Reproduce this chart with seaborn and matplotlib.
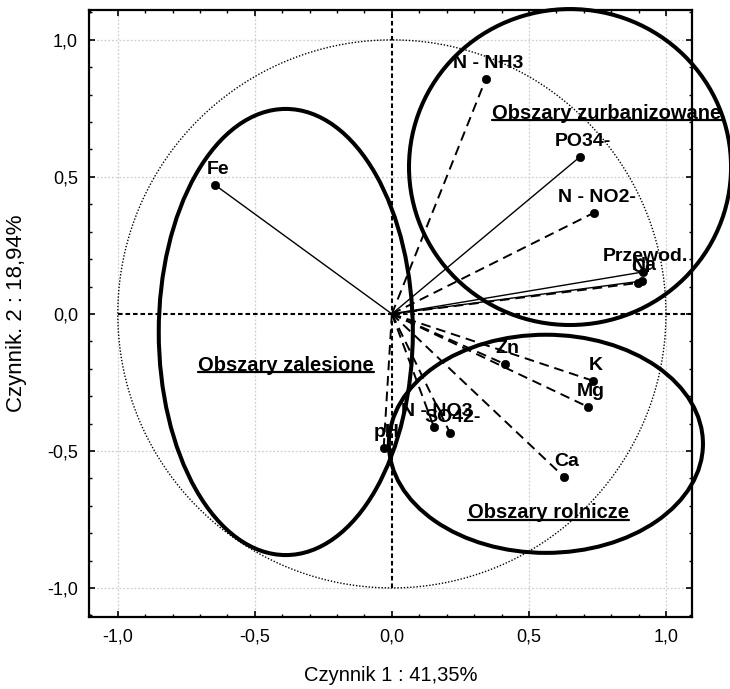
import numpy as np
import pandas as pd
import matplotlib
matplotlib.use("Agg")
import matplotlib.pyplot as plt
import seaborn as sns
from matplotlib.patches import Ellipse
from matplotlib.ticker import MultipleLocator, FixedLocator, FixedFormatter

# ---------------- data ----------------
variables = ['Fe', 'N - NH3', 'PO34-', 'N - NO2-', 'Przewod.', 'Na', 'Cl',
             'Zn', 'K', 'Mg', 'Ca', 'N - NO3', 'SO42-', 'pH']
factor1 = [-0.646, 0.343, 0.686, 0.737, 0.916, 0.912, 0.898,
           0.412, 0.734, 0.715, 0.628, 0.153, 0.212, -0.030]
factor2 = [0.471, 0.858, 0.573, 0.369, 0.153, 0.120, 0.113,
           -0.183, -0.244, -0.339, -0.595, -0.412, -0.434, -0.490]
line_kind = ['solid', 'dashed', 'solid', 'dashed', 'solid', 'solid', 'dashed',
             'dashed', 'dashed', 'dashed', 'dashed', 'dashed', 'dashed', 'dashed']

group_names = ['Obszary zalesione', 'Obszary zurbanizowane', 'Obszary rolnicze']
group_center_x = [-0.387, 0.650, 0.562]
group_center_y = [-0.066, 0.536, -0.474]
group_width = [0.927, 1.175, 1.146]
group_height = [1.628, 1.153, 0.796]
group_label_x = [-0.387, 0.785, 0.571]
group_label_y = [-0.208, 0.712, -0.745]

tick_values = [-1.0, -0.5, 0.0, 0.5, 1.0]
tick_labels = ['-1,0', '-0,5', '0,0', '0,5', '1,0']
x_title = 'Czynnik 1 : 41,35%'
y_title = 'Czynnik. 2 : 18,94%'

# ---------------- style ----------------
sns.set_style("white")
plt.rcParams['font.family'] = ['Liberation Sans', 'DejaVu Sans']
plt.rcParams['text.color'] = 'black'
plt.rcParams['axes.labelcolor'] = 'black'
plt.rcParams['xtick.color'] = 'black'
plt.rcParams['ytick.color'] = 'black'

fig = plt.figure(figsize=(7.30, 6.89), dpi=100)
ax = fig.add_axes([89 / 730, 72 / 689, 603 / 730, 607 / 689])
ax.set_xlim(-1.105, 1.095)
ax.set_ylim(-1.106, 1.109)

# grid
for v in tick_values:
    if v != 0:
        ax.axvline(v, color='#cfcfcf', lw=0.9, ls=(0, (1.5, 1.5)), zorder=0)
        ax.axhline(v, color='#cfcfcf', lw=0.9, ls=(0, (1.5, 1.5)), zorder=0)

# unit circle
theta = np.linspace(0, 2 * np.pi, 400)
ax.plot(np.cos(theta), np.sin(theta), color='black', lw=1.0,
        ls=(0, (1, 1.3)), zorder=1)

# zero lines
ax.plot([-1.0, 1.095], [0, 0], color='black', lw=1.5, ls=(0, (2.2, 1.4)), zorder=1)
ax.plot([0, 0], [-1.0, 1.109], color='black', lw=1.5, ls=(0, (2.2, 1.4)), zorder=1)

# vectors
rows = []
for name, x, y, k in zip(variables, factor1, factor2, line_kind):
    rows.append(dict(var=name, x=0.0, y=0.0, kind=k))
    rows.append(dict(var=name, x=x, y=y, kind=k))
vec = pd.DataFrame(rows)
sns.lineplot(data=vec[vec.kind == 'solid'], x='x', y='y', units='var',
             estimator=None, sort=False, color='black', lw=1.0,
             legend=False, ax=ax, zorder=2)
sns.lineplot(data=vec[vec.kind == 'dashed'], x='x', y='y', units='var',
             estimator=None, sort=False, color='black', lw=1.4,
             linestyle=(0, (5, 3)), legend=False, ax=ax, zorder=2)

pts = pd.DataFrame(dict(var=variables, x=factor1, y=factor2))
sns.scatterplot(data=pts, x='x', y='y', color='black', edgecolor='black',
                s=36, legend=False, ax=ax, zorder=3)

for name, x, y in zip(variables, factor1, factor2):
    ax.annotate(name, (x, y), xytext=(2, 8), textcoords='offset points',
                ha='center', va='baseline', fontsize=14, fontweight='bold',
                color='black', zorder=4)

# group ellipses
for cx, cy, w, h in zip(group_center_x, group_center_y, group_width, group_height):
    e = Ellipse((cx, cy), w, h, fill=False, edgecolor='black', lw=2.9,
                clip_on=False, zorder=3)
    ax.add_patch(e)

group_texts = []
for name, lx, ly in zip(group_names, group_label_x, group_label_y):
    t = ax.text(lx, ly, name, ha='center', va='baseline', fontsize=14.5,
                fontweight='bold', color='black', zorder=4)
    group_texts.append(t)

# axes styling
ax.xaxis.set_major_locator(FixedLocator(tick_values))
ax.xaxis.set_major_formatter(FixedFormatter(tick_labels))
ax.yaxis.set_major_locator(FixedLocator(tick_values))
ax.yaxis.set_major_formatter(FixedFormatter(tick_labels))
ax.xaxis.set_minor_locator(MultipleLocator(0.1))
ax.yaxis.set_minor_locator(MultipleLocator(0.1))
ax.tick_params(which='both', direction='in', top=True, right=True,
               bottom=True, left=True, color='black', labelcolor='black')
ax.tick_params(which='major', length=4.5, width=1.2, pad=8, labelsize=13)
ax.tick_params(which='minor', length=2.5, width=1.0)
for s in ax.spines.values():
    s.set_color('black')
    s.set_linewidth(1.6)
ax.grid(False)

ax.set_xlabel(x_title, fontsize=14.5, color='black')
ax.set_ylabel(y_title, fontsize=16, color='black')
ax.xaxis.set_label_coords(0.5, -0.080)
ax.yaxis.set_label_coords(-0.103, 0.5)

# underline the group labels
fig.canvas.draw()
r = fig.canvas.get_renderer()
inv = ax.transData.inverted()
for t, lx, ly in zip(group_texts, group_label_x, group_label_y):
    bb = t.get_window_extent(r)
    base = ax.transData.transform((lx, ly))[1] - 1.5
    (x0, yu), (x1, _) = inv.transform([(bb.x0, base), (bb.x1, base)])
    ax.plot([x0, x1], [yu, yu], color='black', lw=1.6, clip_on=False, zorder=4)

fig.savefig('out.png', dpi=100)
